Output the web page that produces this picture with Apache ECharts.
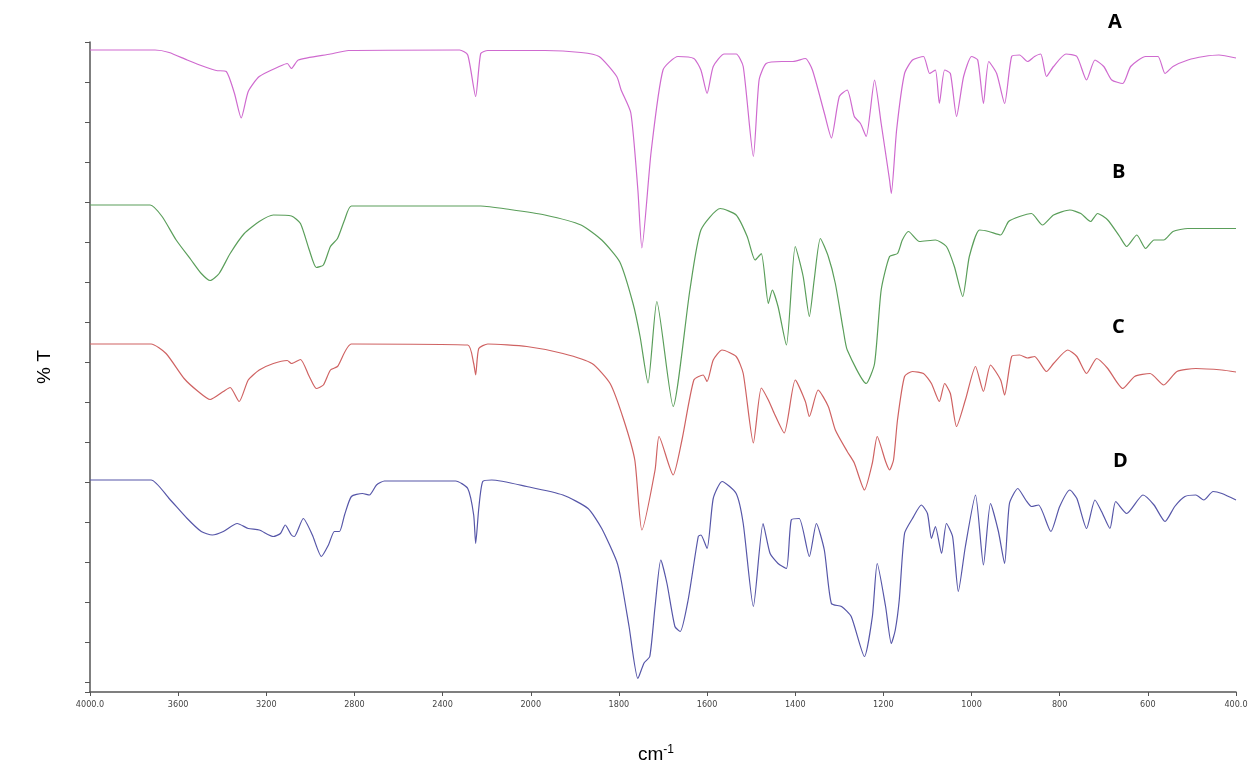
<!DOCTYPE html>
<html>
<head>
<meta charset="utf-8">
<script src="https://cdn.jsdelivr.net/npm/echarts@6/dist/echarts.min.js"></script>
<style>
html,body{margin:0;padding:0;background:#fff;}
#chart{width:1251px;height:782px;}
</style>
</head>
<body>
<div id="chart"></div>
<script>
// Wavenumber ticks (instrument axis: 400 cm-1 steps above 2000, 200 cm-1 steps below)
const tickWavenumbers = [4000,3600,3200,2800,2400,2000,1800,1600,1400,1200,1000,800,600,400];
const tickLabels = ['4000.0','3600','3200','2800','2400','2000','1800','1600','1400','1200','1000','800','600','400.0'];
const seriesNames = ['A','B','C','D'];

// [wavenumber (cm-1), transmittance in stacked display units]
const specA = [[4000,128.4],[3727,128.4],[3705,128.4],[3641,127.9],[3559,126.4],[3477,125],[3427,124.3],[3382,124.1],[3345,119.8],[3314,114.8],[3282,120.1],[3232,123.1],[3136,125.2],[3105,125.7],[3086,124.7],[3055,126.4],[2909,127.6],[2827,128.3],[2323,128.4],[2286,127.4],[2250,119.1],[2227,127.7],[2195,128.3],[1968,128.3],[1886,127.9],[1845,127.1],[1805,123.1],[1795,120.4],[1773,115.8],[1757,100.4],[1748,88.8],[1727,108],[1700,124.4],[1666,127.1],[1630,126.7],[1614,124.4],[1600,119.7],[1586,125.1],[1561,127.6],[1534,127.6],[1518,125.1],[1495,107.1],[1482,122.4],[1466,125.7],[1430,126.1],[1405,126.1],[1377,126.7],[1361,124.4],[1334,115.8],[1318,110.8],[1300,119.1],[1282,120.4],[1266,115.1],[1252,113.7],[1239,111.1],[1220,122.4],[1205,113.7],[1186,102.4],[1182,99.7],[1170,112.4],[1152,123.7],[1134,126.4],[1109,127.1],[1095,123.7],[1082,124.4],[1073,117.7],[1061,124.4],[1048,123.7],[1034,115.1],[1018,123.1],[1000,127.1],[986,126.4],[973,117.7],[961,126.1],[943,123.7],[925,117.7],[909,127.1],[891,127.4],[873,126.1],[857,127.1],[843,127.6],[830,123.1],[814,125.1],[786,127.6],[761,127.1],[739,122.4],[720,126.4],[700,125.1],[682,122.4],[657,121.7],[639,125.1],[605,127.1],[577,127.1],[561,123.7],[543,125.1],[509,126.4],[473,127.1],[439,127.4],[400,126.8]];

const specB = [[4000,97.4],[3727,97.4],[3673,95.1],[3609,90.4],[3541,86.4],[3495,83.7],[3455,82.3],[3414,83.7],[3364,87.7],[3300,91.7],[3232,94.1],[3168,95.4],[3086,95.2],[3045,93.7],[3005,88.4],[2973,84.9],[2941,85.4],[2909,89.1],[2877,90.7],[2845,94.4],[2814,97.2],[2227,97.2],[2095,96.5],[1968,95.4],[1886,93.4],[1839,90.4],[1798,86],[1768,77.7],[1752,71.1],[1734,61.8],[1714,78.1],[1677,57.1],[1639,80.4],[1614,92.4],[1570,96.7],[1534,95.4],[1509,91.1],[1491,86.4],[1477,87.7],[1461,77.7],[1452,80.4],[1439,77.1],[1420,69.4],[1400,89.1],[1382,83.1],[1368,75.1],[1357,82.4],[1343,90.7],[1325,87.1],[1309,81.7],[1291,72.4],[1282,68.4],[1239,61.7],[1220,65.7],[1205,80.4],[1186,87.1],[1168,87.7],[1157,90.4],[1143,92.1],[1118,90.1],[1082,90.4],[1057,89.1],[1039,85.1],[1020,79.1],[1005,87.1],[982,92.4],[961,92.1],[934,91.4],[916,94.1],[891,95.1],[864,95.7],[839,93.4],[814,95.4],[777,96.4],[752,95.7],[730,94.1],[714,95.7],[691,94.4],[664,91.1],[648,89.1],[625,91.4],[605,88.7],[586,90.4],[564,90.4],[543,92.1],[509,92.7],[464,92.7],[400,92.7]];

const specC = [[4000,69.6],[3723,69.6],[3655,67.7],[3573,62.7],[3509,60.1],[3455,58.5],[3395,60.1],[3364,60.9],[3323,58.1],[3282,62.4],[3232,64.4],[3168,65.7],[3105,66.3],[3086,65.7],[3045,66.5],[3005,63.1],[2973,60.7],[2941,61.4],[2909,64.4],[2877,65.1],[2814,69.6],[2286,69.4],[2259,65.7],[2250,63.4],[2236,68.7],[2195,69.6],[2018,69.1],[1927,67.7],[1861,65.7],[1820,61.7],[1789,54.4],[1764,46.4],[1748,32.4],[1718,44.4],[1709,51.1],[1677,43.4],[1657,50.4],[1630,62.4],[1609,63.4],[1600,62.1],[1586,66.4],[1566,68.4],[1534,67.1],[1518,63.7],[1495,49.8],[1477,60.8],[1461,58.4],[1448,55.8],[1425,51.8],[1400,62.4],[1377,58.1],[1368,55.1],[1348,60.4],[1325,57.1],[1309,52.4],[1282,48.1],[1266,45.8],[1243,40.4],[1225,45.8],[1214,51.1],[1195,46.1],[1186,44.4],[1177,46.4],[1168,54.4],[1152,63.1],[1134,64.1],[1109,63.7],[1091,61.7],[1073,58.1],[1061,61.7],[1048,59.7],[1034,53.1],[1014,58.4],[991,65.1],[973,60.1],[957,65.4],[934,62.4],[925,59.4],[909,67.1],[891,67.4],[873,66.8],[857,67.1],[830,64.1],[814,65.7],[782,68.4],[761,67.1],[739,63.7],[716,66.7],[691,64.7],[657,60.7],[630,63.1],[595,63.7],[564,61.4],[534,64.1],[491,64.7],[432,64.4],[400,64]];

const specD = [[4000,42.4],[3723,42.4],[3641,38.7],[3559,34.7],[3495,32.1],[3445,31.4],[3395,32.1],[3332,33.7],[3282,32.7],[3232,32.4],[3168,31.1],[3136,31.7],[3114,33.4],[3086,31.4],[3073,31.1],[3032,34.7],[2991,31.4],[2950,27.1],[2918,29.4],[2891,32.1],[2868,32.1],[2845,35.4],[2814,39.1],[2764,39.7],[2732,39.4],[2700,41.4],[2664,42.2],[2341,42.2],[2286,40.7],[2259,35.4],[2250,29.7],[2236,36.7],[2218,42.1],[2177,42.4],[2018,41.1],[1927,39.4],[1870,36.7],[1839,32.7],[1805,26.1],[1795,22.4],[1777,13.1],[1757,2.7],[1743,5.8],[1730,7.1],[1718,17.1],[1705,26.4],[1691,21.7],[1673,13.1],[1661,12.1],[1643,18.4],[1620,31.1],[1614,31.4],[1600,28.7],[1586,38.7],[1566,42.1],[1534,39.7],[1518,33.7],[1495,17.1],[1473,33.7],[1457,27.7],[1439,25.7],[1420,24.7],[1409,34.4],[1391,34.7],[1368,27.1],[1352,33.7],[1334,28.4],[1318,17.7],[1295,17.1],[1273,15.1],[1243,7.1],[1225,15.1],[1214,25.7],[1195,17.1],[1182,9.7],[1173,12.4],[1164,18.4],[1152,31.7],[1134,34.7],[1114,37.4],[1100,35.7],[1091,30.7],[1082,33.1],[1068,27.7],[1057,33.7],[1043,31.1],[1030,20.1],[1014,29.1],[991,39.4],[973,25.4],[957,37.7],[939,32.1],[925,25.7],[914,37.7],[895,40.7],[877,38.4],[864,37.1],[848,37.4],[820,32.1],[800,37.1],[777,40.4],[761,38.7],[739,32.7],[720,38.4],[705,36.1],[686,32.7],[673,38.1],[648,35.7],[611,39.4],[586,37.4],[561,34.1],[539,37.1],[516,39.1],[491,39.4],[473,38.4],[452,40.1],[432,39.7],[400,38.4]];

const colors = ['#cf6acf','#5a9e5a','#cf6262','#5656a8'];

// piecewise instrument scale: wavenumber -> tick-interval position
function wnToAxis(w){
  for (let i = 0; i < tickWavenumbers.length - 1; i++) {
    const a = tickWavenumbers[i], b = tickWavenumbers[i+1];
    if (w >= b) return i + (a - w) / (a - b);
  }
  return tickWavenumbers.length - 1;
}

const chart = echarts.init(document.getElementById('chart'), null, {renderer:'canvas'});
const specs = [specA, specB, specC, specD];

chart.setOption({
  backgroundColor: '#ffffff',
  animation: false,
  grid: {left: 90, right: 15, top: 42, bottom: 90, containLabel: false},
  xAxis: {
    type: 'value', min: 0, max: tickWavenumbers.length - 1, interval: 1,
    name: 'cm{sup|-1}', nameLocation: 'middle', nameGap: 52,
    nameTextStyle: {
      fontFamily: 'Liberation Sans', fontSize: 19, color: '#000', padding: [0, 14, 0, 0],
      rich: {sup: {fontSize: 12, verticalAlign: 'top', padding: [0,0,10,0], color:'#000', fontFamily:'Liberation Sans'}}
    },
    axisLine: {show: true, onZero: false, lineStyle: {color: '#555', width: 1.5}},
    axisTick: {show: true, inside: false, length: 4, lineStyle: {color: '#555'}},
    axisLabel: {
      formatter: v => tickLabels[Math.round(v)],
      fontFamily: 'DejaVu Sans Condensed, DejaVu Sans', fontSize: 9, color: '#444', margin: 8
    },
    splitLine: {show: false}
  },
  yAxis: [
    {
      type: 'value', inverse: true, min: 0, max: 16.25, interval: 1,
      name: '% T', nameLocation: 'middle', nameGap: 36, nameRotate: 90,
      nameTextStyle: {fontFamily: 'Liberation Sans', fontSize: 19, color: '#000'},
      axisLine: {show: true, lineStyle: {color: '#555', width: 1.5}},
      axisTick: {show: true, inside: false, length: 5, lineStyle: {color: '#555'}},
      axisLabel: {show: false},
      splitLine: {show: false}
    },
    {
      type: 'value', min: 0, max: 130, show: false,
      axisLine: {show: false}, axisTick: {show: false}, axisLabel: {show: false}, splitLine: {show: false}
    }
  ],
  series: specs.map((s, i) => ({
    name: seriesNames[i],
    type: 'line',
    yAxisIndex: 1,
    data: s.map(([w, t]) => [wnToAxis(w), t]),
    showSymbol: false,
    smooth: 0.2,
    lineStyle: {color: colors[i], width: 1.2},
    itemStyle: {color: colors[i]}
  })),
  graphic: [
    {type:'text', left: 1108, top: 12, style:{text: seriesNames[0], font: 'bold 20px "Open Sans", "Liberation Sans"', fill:'#000'}},
    {type:'text', left: 1112, top: 162, style:{text: seriesNames[1], font: 'bold 20px "Open Sans", "Liberation Sans"', fill:'#000'}},
    {type:'text', left: 1112, top: 317, style:{text: seriesNames[2], font: 'bold 20px "Open Sans", "Liberation Sans"', fill:'#000'}},
    {type:'text', left: 1113, top: 451, style:{text: seriesNames[3], font: 'bold 20px "Open Sans", "Liberation Sans"', fill:'#000'}}
  ]
});
</script>
</body>
</html>
